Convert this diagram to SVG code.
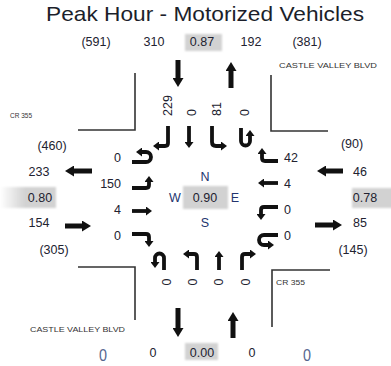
<svg xmlns="http://www.w3.org/2000/svg" width="391" height="366" viewBox="0 0 391 366">
<style>
text{font-family:"Liberation Sans",Arial,sans-serif;fill:#222230}
.t{font-size:21px;text-anchor:middle;fill:#1c1f2b}
.n{font-size:12.5px;text-anchor:middle;fill:#222230}
.s{font-size:8px;fill:#333}
.d{font-size:12.5px;fill:#24346e;text-anchor:middle}
.box{fill:#d2d2d2;filter:url(#soft)}
.ia{fill:none;stroke:#111;stroke-width:3.8;marker-end:url(#ih)}
.oa{fill:none;stroke:#111;stroke-width:5;marker-end:url(#oh)}
.cl{fill:none;stroke:#333;stroke-width:1.6}
</style>
<defs>
<filter id="soft" x="-20%" y="-30%" width="140%" height="160%"><feGaussianBlur stdDeviation="1.2"/></filter>
<linearGradient id="lg" x1="0" x2="1" y1="0" y2="0"><stop offset="0" stop-color="#fff"/><stop offset="0.45" stop-color="#d2d2d2"/><stop offset="1" stop-color="#d2d2d2"/></linearGradient>
<marker id="ih" viewBox="0 0 6 9" refX="0" refY="4.5" markerWidth="6" markerHeight="9" markerUnits="userSpaceOnUse" orient="auto"><path d="M0,0 L6,4.5 L0,9 z" fill="#111"/></marker>
<marker id="oh" viewBox="0 0 9 11" refX="0" refY="5.5" markerWidth="9" markerHeight="11" markerUnits="userSpaceOnUse" orient="auto"><path d="M0,0 L9,5.5 L0,11 z" fill="#111"/></marker>
</defs>
<rect width="391" height="366" fill="#fff"/>
<text class="t" x="205" y="21" textLength="318" lengthAdjust="spacingAndGlyphs">Peak Hour - Motorized Vehicles</text>

<g id="corners">
<path class="cl" d="M78,130 H135 V73"/>
<path class="cl" d="M271,75 V131 H328"/>
<path class="cl" d="M78,267 H135 V320"/>
<path class="cl" d="M272,327 V270 H330"/>
</g>
<g id="street-labels">
<text class="s" x="279" y="68" textLength="98" lengthAdjust="spacingAndGlyphs">CASTLE VALLEY BLVD</text>
<text class="s" x="30" y="332" textLength="95" lengthAdjust="spacingAndGlyphs">CASTLE VALLEY BLVD</text>
<text class="s" x="10" y="118" textLength="22" lengthAdjust="spacingAndGlyphs">CR 355</text>
<text class="s" x="276" y="285" textLength="29" lengthAdjust="spacingAndGlyphs">CR 355</text>
</g>

<g id="north-leg">
<text class="n" x="96" y="46">(591)</text>
<text class="n" x="154" y="46">310</text>
<rect class="box" x="185" y="34" width="37" height="17"/>
<text class="n" x="202" y="46">0.87</text>
<text class="n" x="251" y="46">192</text>
<text class="n" x="307" y="46">(381)</text>
<text class="n" transform="translate(172,116) rotate(-90)" style="text-anchor:start">229</text>
<text class="n" transform="translate(196,116) rotate(-90)" style="text-anchor:start">0</text>
<text class="n" transform="translate(221,116) rotate(-90)" style="text-anchor:start">81</text>
<text class="n" transform="translate(249,116) rotate(-90)" style="text-anchor:start">0</text>
</g>

<g id="south-leg">
<rect class="box" x="185" y="343" width="33" height="17"/>
<text x="103" y="361" style="font-size:17px;fill:#56668f;text-anchor:middle" textLength="8" lengthAdjust="spacingAndGlyphs">0</text>
<text class="n" x="153" y="357">0</text>
<text class="n" x="202" y="357">0.00</text>
<text class="n" x="252" y="357">0</text>
<text x="307" y="361" style="font-size:17px;fill:#56668f;text-anchor:middle" textLength="8" lengthAdjust="spacingAndGlyphs">0</text>
<text class="n" transform="translate(171,282) rotate(-90)">0</text>
<text class="n" transform="translate(197,282) rotate(-90)">0</text>
<text class="n" transform="translate(223,282) rotate(-90)">0</text>
<text class="n" transform="translate(250,282) rotate(-90)">0</text>
</g>

<g id="west-leg">
<text class="n" x="52" y="149.5">(460)</text>
<text class="n" x="39" y="176">233</text>
<rect x="0" y="187" width="56" height="21" fill="url(#lg)" filter="url(#soft)"/>
<text class="n" x="40" y="201.5">0.80</text>
<text class="n" x="39" y="227">154</text>
<text class="n" x="54" y="254">(305)</text>
<text class="n" x="121" y="161.5" style="text-anchor:end">0</text>
<text class="n" x="121" y="188" style="text-anchor:end">150</text>
<text class="n" x="121" y="213.5" style="text-anchor:end">4</text>
<text class="n" x="121" y="239.5" style="text-anchor:end">0</text>
</g>

<g id="east-leg">
<text class="n" x="352" y="147.5">(90)</text>
<text class="n" x="360" y="175.5">46</text>
<rect class="box" x="352" y="188" width="42" height="20"/>
<text class="n" x="365" y="201.5">0.78</text>
<text class="n" x="360" y="226.5">85</text>
<text class="n" x="353" y="254">(145)</text>
<text class="n" x="284" y="161.5" style="text-anchor:start">42</text>
<text class="n" x="284" y="187.5" style="text-anchor:start">4</text>
<text class="n" x="284" y="213.5" style="text-anchor:start">0</text>
<text class="n" x="284" y="239.5" style="text-anchor:start">0</text>
</g>

<g id="center">
<rect class="box" x="183" y="186" width="45" height="23"/>
<text class="d" x="205" y="181">N</text>
<text class="d" x="175" y="202">W</text>
<text class="n" x="205" y="202">0.90</text>
<text class="d" x="235" y="202">E</text>
<text class="d" x="205" y="227">S</text>
</g>

<g id="connectors">
<path class="oa" d="M178,60 V78"/>
<path class="oa" d="M231,88 V71"/>
<path class="oa" d="M178,308 V328"/>
<path class="oa" d="M233,338 V321"/>
<path class="oa" d="M92,171 H74"/>
<path class="oa" d="M65,226 H82"/>
<path class="oa" d="M343,171 H326"/>
<path class="oa" d="M315,225 H333"/>

<path class="ia" d="M168,126 V143 Q168,146 165,146 H159"/>
<path class="ia" d="M189,126 V142"/>
<path class="ia" d="M212,126 V142 Q212,146 216,146 H221"/>
<path class="ia" d="M241,128 V141 A4.5,4.5 0 0 0 250,141 V136"/>

<path class="ia" d="M132,162 H146 A5,5 0 0 0 146,152 H142"/>
<path class="ia" d="M132,188 H146 Q149,188 149,185 V182"/>
<path class="ia" d="M132,211 H146"/>
<path class="ia" d="M132,234 H146 Q149,234 149,237 V241"/>

<path class="ia" d="M278,161 H265 Q262,161 262,158 V154"/>
<path class="ia" d="M278,183 H264"/>
<path class="ia" d="M278,207 H264 Q261,207 261,210 V214"/>
<path class="ia" d="M278,235 H264 A5,5 0 0 0 264,245 H268"/>

<path class="ia" d="M164,270 V258 A4.5,4.5 0 0 0 155,258 V262"/>
<path class="ia" d="M197,270 V257 Q197,254 194,254 H189"/>
<path class="ia" d="M219,270 V257"/>
<path class="ia" d="M242,270 V257 Q242,254 245,254 H250"/>
</g>
</svg>
